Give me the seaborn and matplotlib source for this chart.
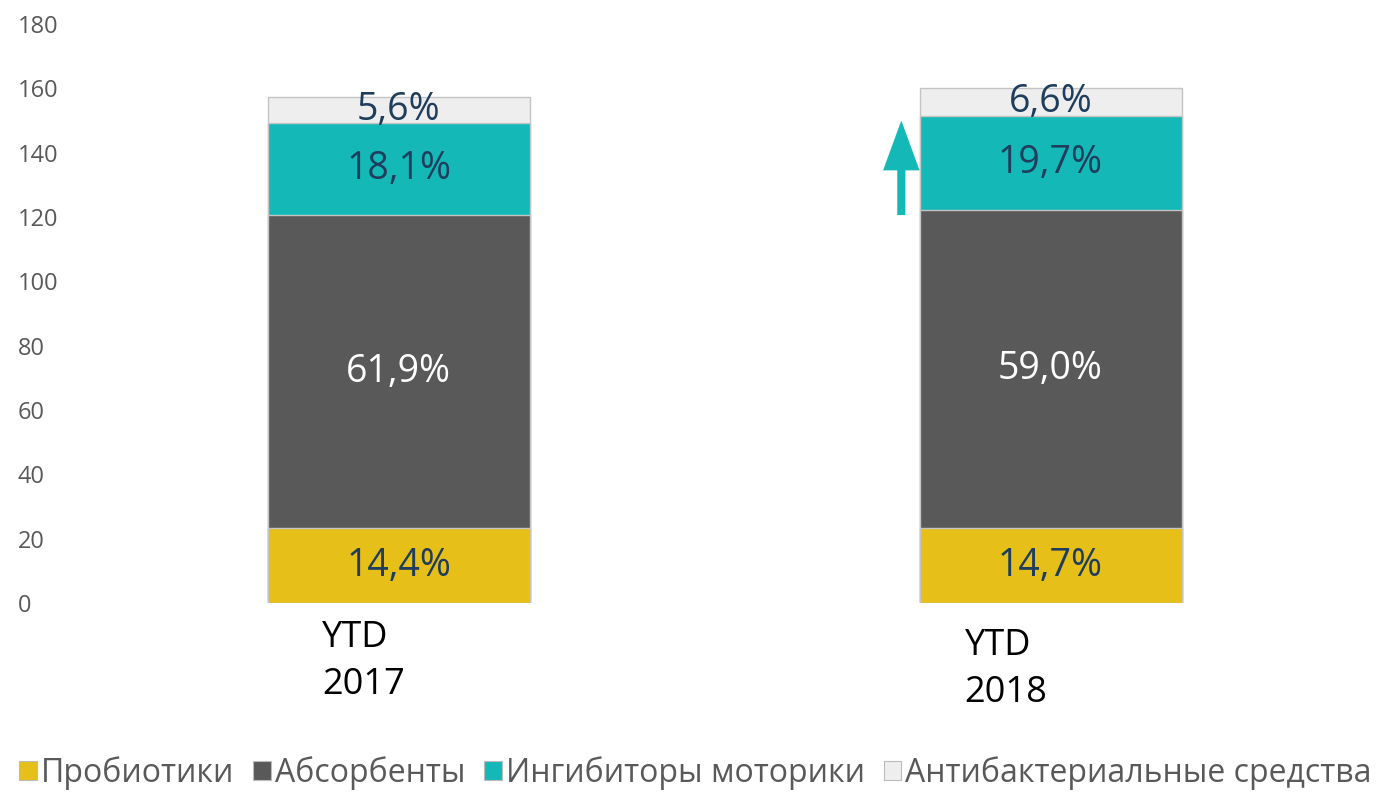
import numpy as np
import pandas as pd
import matplotlib
matplotlib.use("Agg")
import matplotlib.pyplot as plt
from matplotlib.patches import Patch
import seaborn as sns

# ---- data ----
periods = ["YTD 2017", "YTD 2018"]
period_labels = ["YTD\n2017", "YTD\n2018"]
series = ["Пробиотики", "Абсорбенты", "Ингибиторы моторики", "Антибактериальные средства"]
probiotics = [23.3, 23.3]
absorbents = [97.3, 98.9]
motility = [28.6, 29.2]
antibacterial = [8.1, 8.7]
share_labels = [["14,4%", "14,7%"], ["61,9%", "59,0%"], ["18,1%", "19,7%"], ["5,6%", "6,6%"]]
yticks = [0, 20, 40, 60, 80, 100, 120, 140, 160, 180]

colors = ["#E6BF18", "#595959", "#14B9B7", "#EEEEEE"]
label_colors = ["#1F3D5C", "#FFFFFF", "#1F3D5C", "#1F3D5C"]

sns.set_theme(style="white")
plt.rcParams["font.family"] = ["Open Sans", "DejaVu Sans"]

values = np.array([probiotics, absorbents, motility, antibacterial])
cum = np.cumsum(values, axis=0)

fig = plt.figure(figsize=(13.91, 7.92), dpi=100)
ax = fig.add_axes([0.0525, 0.2386, 0.937, 0.7311])

# draw stacked bars from top layer down
for k in range(len(series) - 1, -1, -1):
    df = pd.DataFrame({"period": periods, "value": cum[k]})
    sns.barplot(data=df, x="period", y="value", color=colors[k], width=0.402,
                edgecolor="#C4C4C4", linewidth=1.0, saturation=1, ax=ax)

# segment labels
for k in range(len(series)):
    for i in range(len(periods)):
        bottom = cum[k][i] - values[k][i]
        ax.text(i, bottom + values[k][i] / 2, share_labels[k][i], ha="center", va="center",
                fontsize=27, color=label_colors[k], family=["Open Sans", "DejaVu Sans"])

ax.set_xlim(-0.5, 1.5)
ax.set_ylim(0, 180)
ax.set_yticks(yticks)
ax.set_yticklabels([str(t) for t in yticks])
ax.tick_params(axis="y", pad=40, labelsize=17, labelcolor="#595959", length=0)
for lab in ax.get_yticklabels():
    lab.set_horizontalalignment("left")
ax.set_xticks([0, 1])
ax.set_xticklabels(["", ""])
ax.tick_params(axis="x", length=0)
ax.set_xlabel("")
ax.set_ylabel("")
for s in ax.spines.values():
    s.set_visible(False)

# category labels
offsets = [(-77 * 0.72, -17 * 0.72), (-86 * 0.72, -25 * 0.72)]
for i, lab in enumerate(period_labels):
    ax.annotate(lab, xy=(i, 0), xycoords="data", xytext=offsets[i], textcoords="offset points",
                ha="left", va="top", fontsize=26, color="black", linespacing=1.4)

# growth arrow
ax.arrow(0.771, 120.6, 0, 29.4, width=0.0125, head_width=0.056, head_length=15.5,
         length_includes_head=True, color="#14B9B7", linewidth=0)

handles = [Patch(facecolor=c, edgecolor="#BBBBBB", linewidth=0.8) for c in colors]
fig.legend(handles, series, loc="center", bbox_to_anchor=(0.5, 0.024), ncol=4, frameon=False,
           fontsize=23, handlelength=0.55, handleheight=0.55, handletextpad=0.12, columnspacing=0.6,
           labelcolor="#595959")

fig.savefig("out.png", dpi=100)
